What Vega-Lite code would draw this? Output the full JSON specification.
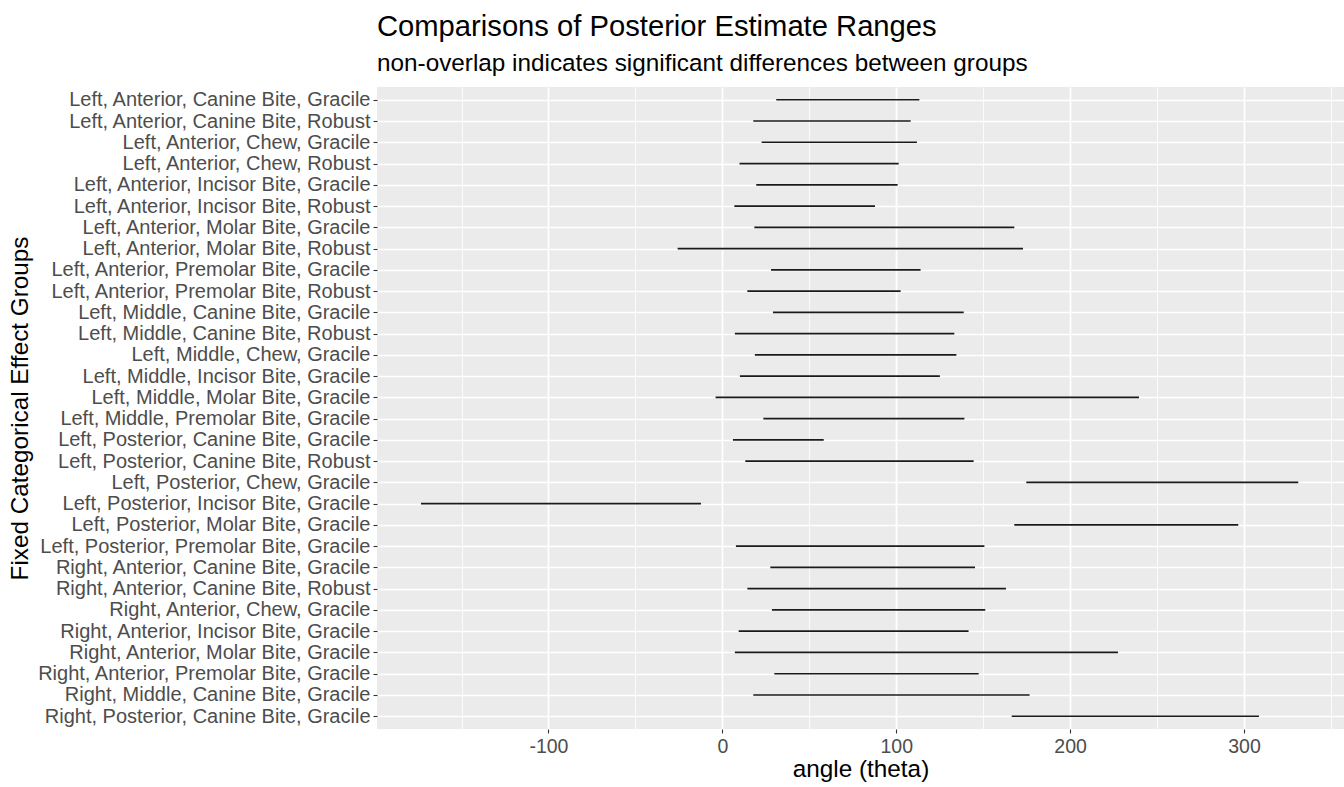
{
  "$schema": "https://vega.github.io/schema/vega-lite/v6.json",
  "width": 967,
  "height": 642,
  "autosize": "none",
  "padding": {"left": 377, "top": 87, "right": 0, "bottom": 58},
  "background": "white",
  "title": {
    "text": "Comparisons of Posterior Estimate Ranges",
    "subtitle": "non-overlap indicates significant differences between groups",
    "anchor": "start",
    "frame": "group",
    "font": "Liberation Sans",
    "fontSize": 29.2,
    "fontWeight": "normal",
    "color": "#000000",
    "subtitleFont": "Liberation Sans",
    "subtitleFontSize": 24.3,
    "subtitleColor": "#000000",
    "subtitlePadding": 10,
    "offset": 11
  },
  "data": {
    "values": [
      {"group": "Left, Anterior, Canine Bite, Gracile", "low": 31.0, "high": 113.3},
      {"group": "Left, Anterior, Canine Bite, Robust", "low": 17.8, "high": 108.3},
      {"group": "Left, Anterior, Chew, Gracile", "low": 22.6, "high": 111.9},
      {"group": "Left, Anterior, Chew, Robust", "low": 9.9, "high": 101.4},
      {"group": "Left, Anterior, Incisor Bite, Gracile", "low": 19.5, "high": 100.8},
      {"group": "Left, Anterior, Incisor Bite, Robust", "low": 6.9, "high": 87.8},
      {"group": "Left, Anterior, Molar Bite, Gracile", "low": 18.4, "high": 167.9},
      {"group": "Left, Anterior, Molar Bite, Robust", "low": -25.7, "high": 172.9},
      {"group": "Left, Anterior, Premolar Bite, Gracile", "low": 28.0, "high": 114.0},
      {"group": "Left, Anterior, Premolar Bite, Robust", "low": 14.4, "high": 102.5},
      {"group": "Left, Middle, Canine Bite, Gracile", "low": 29.1, "high": 138.8},
      {"group": "Left, Middle, Canine Bite, Robust", "low": 7.2, "high": 133.4},
      {"group": "Left, Middle, Chew, Gracile", "low": 18.7, "high": 134.6},
      {"group": "Left, Middle, Incisor Bite, Gracile", "low": 10.1, "high": 125.1},
      {"group": "Left, Middle, Molar Bite, Gracile", "low": -3.9, "high": 239.6},
      {"group": "Left, Middle, Premolar Bite, Gracile", "low": 23.6, "high": 139.2},
      {"group": "Left, Posterior, Canine Bite, Gracile", "low": 6.1, "high": 58.3},
      {"group": "Left, Posterior, Canine Bite, Robust", "low": 13.2, "high": 144.5},
      {"group": "Left, Posterior, Chew, Gracile", "low": 174.8, "high": 331.2},
      {"group": "Left, Posterior, Incisor Bite, Gracile", "low": -173.3, "high": -12.3},
      {"group": "Left, Posterior, Molar Bite, Gracile", "low": 167.9, "high": 296.7},
      {"group": "Left, Posterior, Premolar Bite, Gracile", "low": 7.8, "high": 150.7},
      {"group": "Right, Anterior, Canine Bite, Gracile", "low": 27.6, "high": 145.3},
      {"group": "Right, Anterior, Canine Bite, Robust", "low": 14.4, "high": 163.1},
      {"group": "Right, Anterior, Chew, Gracile", "low": 28.5, "high": 151.2},
      {"group": "Right, Anterior, Incisor Bite, Gracile", "low": 9.4, "high": 141.6},
      {"group": "Right, Anterior, Molar Bite, Gracile", "low": 7.2, "high": 227.5},
      {"group": "Right, Anterior, Premolar Bite, Gracile", "low": 29.9, "high": 147.4},
      {"group": "Right, Middle, Canine Bite, Gracile", "low": 17.8, "high": 176.7},
      {"group": "Right, Posterior, Canine Bite, Gracile", "low": 166.4, "high": 308.6}
    ]
  },
  "mark": {"type": "rule", "color": "#1a1a1a", "strokeWidth": 1.7},
  "encoding": {
    "y": {
      "field": "group",
      "type": "nominal",
      "sort": null,
      "scale": {"type": "point", "padding": 0.6},
      "title": "Fixed Categorical Effect Groups",
      "axis": {
        "domain": false,
        "ticks": true,
        "tickColor": "#333333",
        "tickSize": 4,
        "tickWidth": 1.1,
        "labelPadding": 3,
        "labelLimit": 400,
        "labelColor": "#4d4d4d",
        "labelFont": "Liberation Sans",
        "labelFontSize": 20,
        "grid": true,
        "gridColor": "#ffffff",
        "gridWidth": 1.7,
        "titleFont": "Liberation Sans",
        "titleFontSize": 24.3,
        "titleFontWeight": "normal",
        "titleColor": "#000000",
        "titleBaseline": "middle",
        "titleX": -357,
        "titleY": 321
      }
    },
    "x": {
      "field": "low",
      "type": "quantitative",
      "scale": {"domain": [-198.6, 357.5], "nice": false, "zero": false},
      "title": "angle (theta)",
      "axis": {
        "values": [-150, -100, -50, 0, 50, 100, 150, 200, 250, 300, 350],
        "labelExpr": "datum.value % 100 === 0 ? '' + datum.value : ''",
        "domain": false,
        "ticks": true,
        "tickColor": "#333333",
        "tickSize": 4,
        "tickWidth": 1.1,
        "tickOpacity": {"condition": {"test": "datum.value % 100 === 0", "value": 1}, "value": 0},
        "labelPadding": 4,
        "labelColor": "#4d4d4d",
        "labelFont": "Liberation Sans",
        "labelFontSize": 19.5,
        "grid": true,
        "gridColor": "#ffffff",
        "gridWidth": {"condition": {"test": "datum.value % 100 === 0", "value": 1.7}, "value": 0.8},
        "titleFont": "Liberation Sans",
        "titleFontSize": 24.3,
        "titleFontWeight": "normal",
        "titleColor": "#000000",
        "titlePadding": 2
      }
    },
    "x2": {"field": "high"}
  },
  "config": {
    "view": {"fill": "#EBEBEB", "stroke": null}
  }
}
